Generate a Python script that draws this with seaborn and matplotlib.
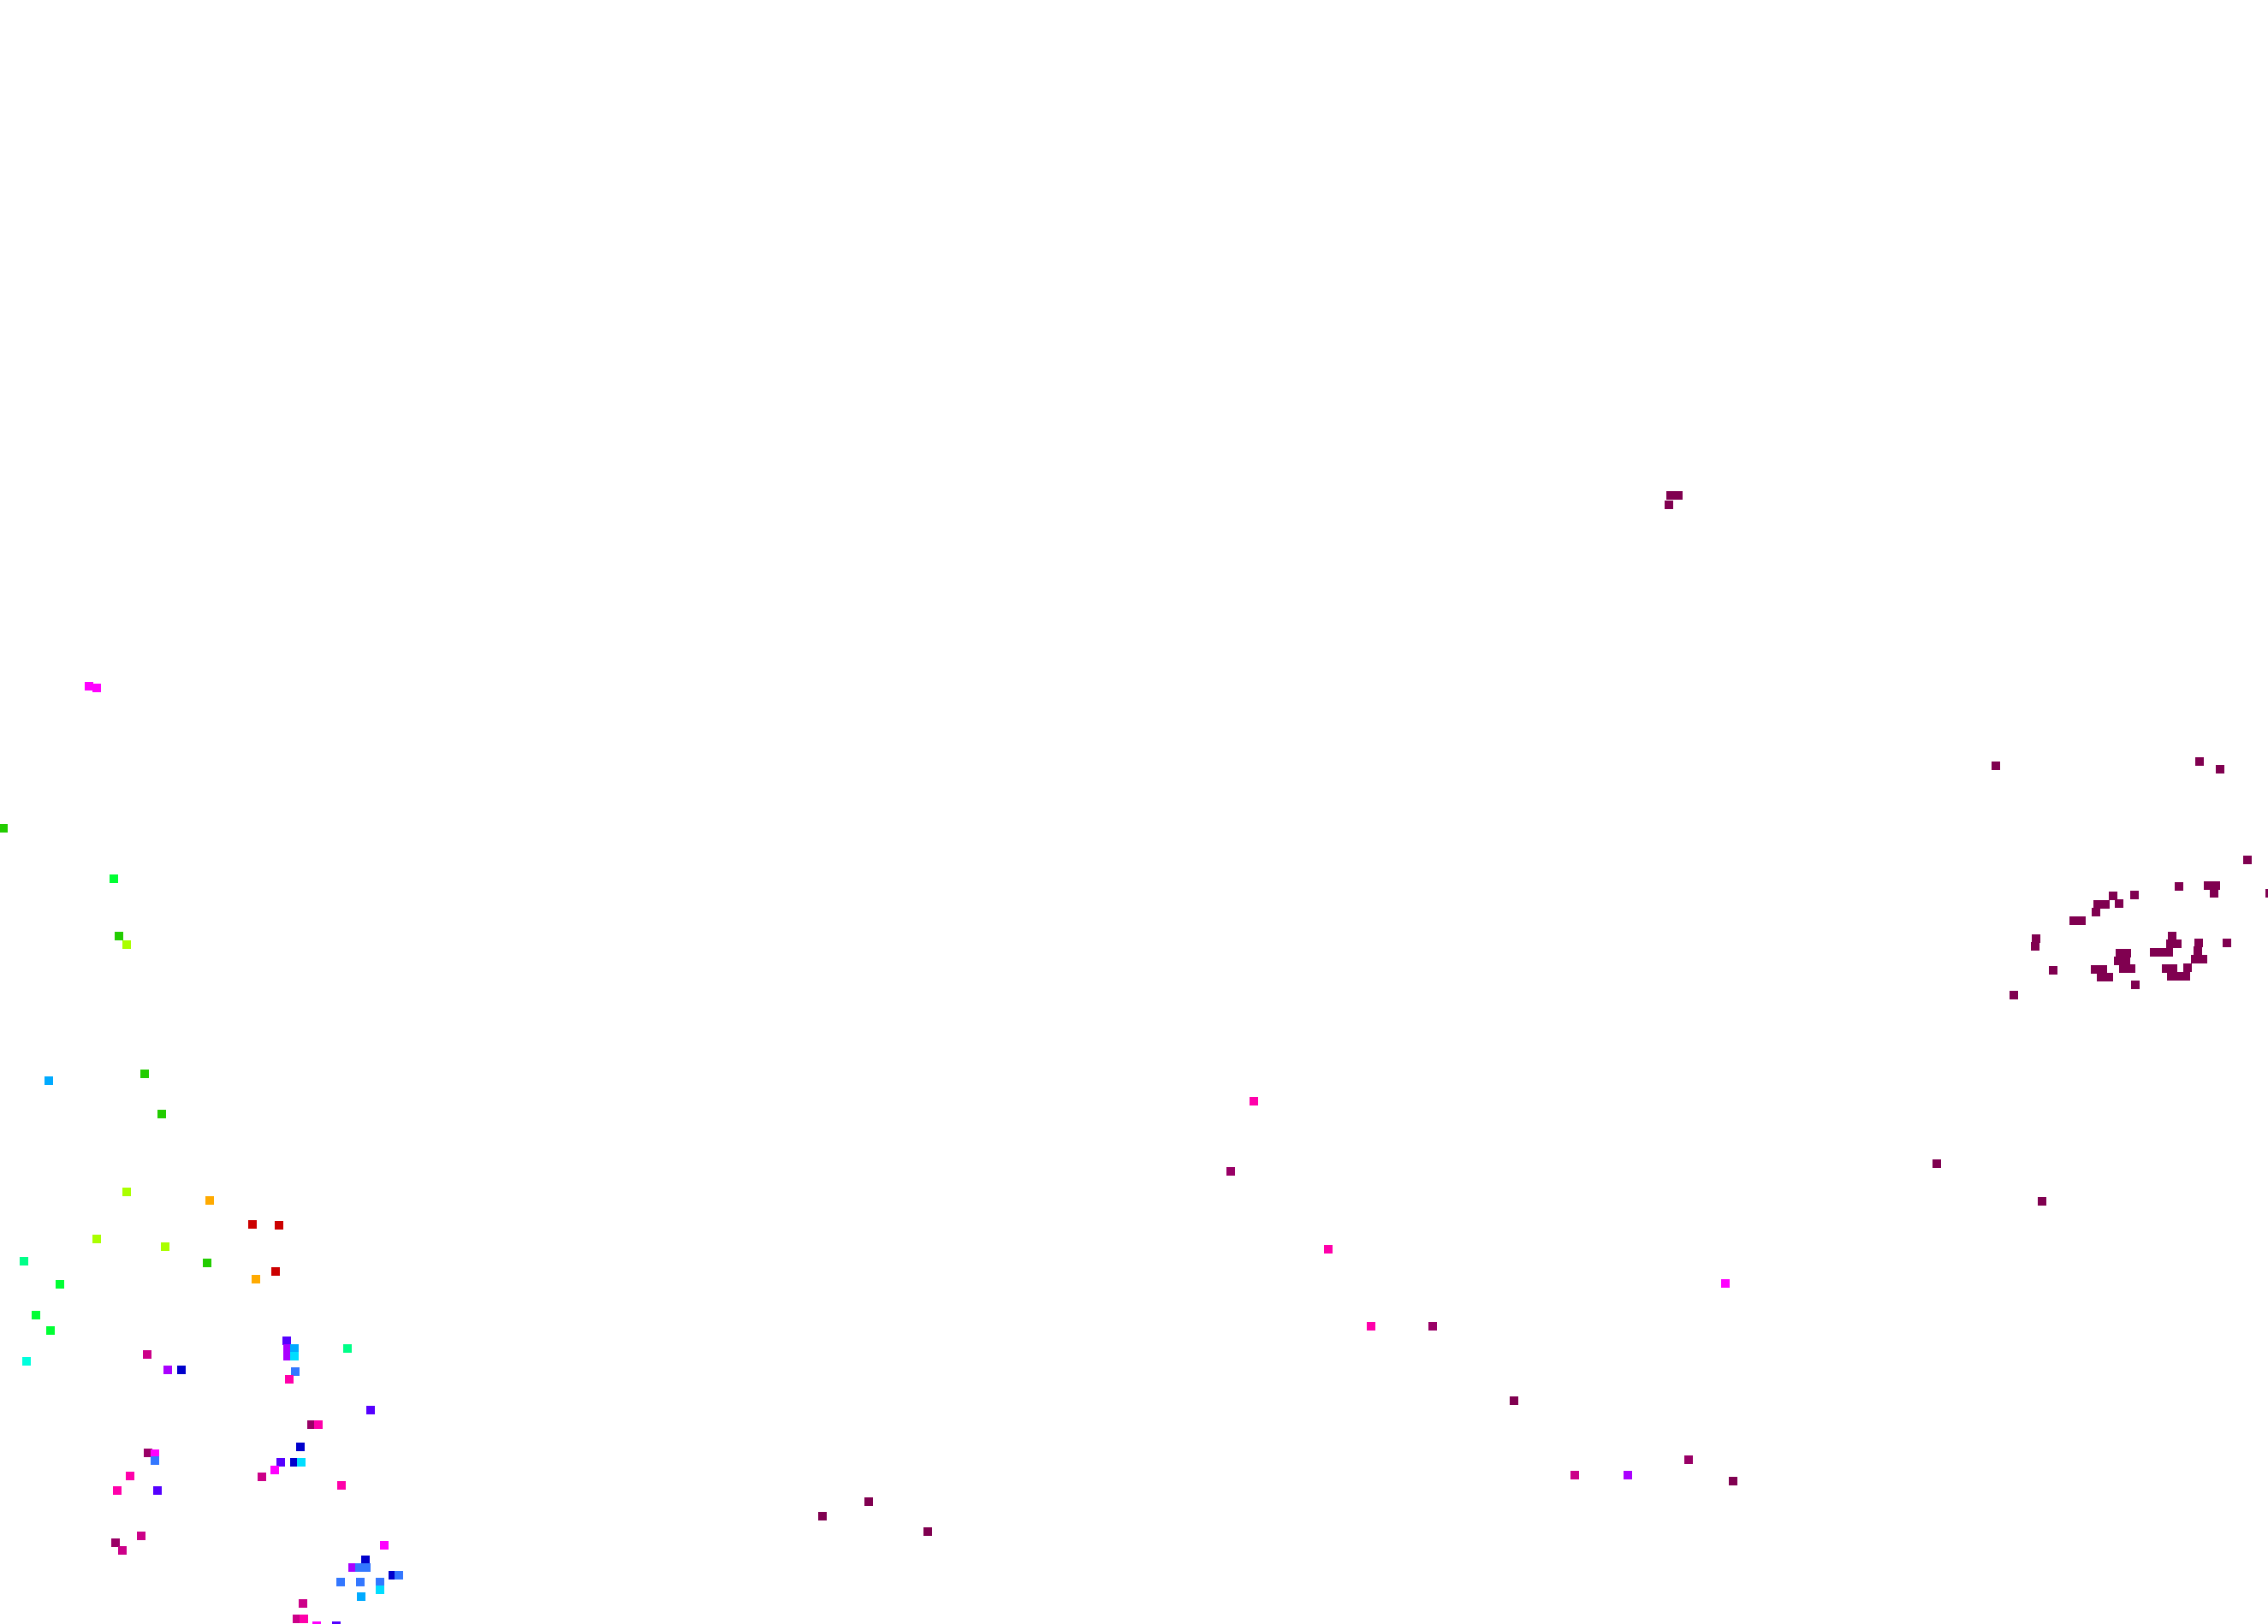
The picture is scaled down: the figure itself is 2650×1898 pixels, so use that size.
import matplotlib
matplotlib.use("Agg")
import matplotlib.pyplot as plt
import seaborn as sns
import pandas as pd

# colour classes (level index -> colour)
level_colors = ["#CC0000", "#FFAA00", "#AAFF00", "#22CC00", "#00FF33", "#00FF88",
                "#00FFDD", "#00DDFF", "#00AAFF", "#3377FF", "#0000CC", "#5500FF",
                "#AA00FF", "#FF00FF", "#FF00AA", "#CC0088", "#990066", "#800050"]

# west group
west_x = [104, 113, 4, 133, 139, 148, 57, 169, 189, 148, 245, 295, 326, 113, 193, 28, 242,
          322, 299, 70, 42, 59, 31, 172, 196, 212, 335, 336, 336, 344, 344, 345, 338, 406,
          433, 364, 372, 351, 328, 344, 352, 321, 306, 399, 173, 181, 181, 152, 137, 184,
          165, 135, 143, 449, 427, 412, 420, 428, 459, 466, 398, 421, 444, 444, 422, 354,
          347, 355, 370, 393]
west_y = [803, 805, 969, 1028, 1095, 1105, 1264, 1256, 1303, 1394, 1404, 1432, 1433, 1449,
          1458, 1475, 1477, 1487, 1496, 1502, 1538, 1556, 1592, 1584, 1602, 1602, 1568, 1577,
          1586, 1577, 1586, 1604, 1613, 1577, 1649, 1666, 1666, 1692, 1710, 1710, 1710, 1719,
          1727, 1737, 1699, 1700, 1708, 1726, 1743, 1743, 1796, 1804, 1813, 1807, 1824, 1833,
          1833, 1833, 1842, 1842, 1850, 1850, 1850, 1859, 1867, 1875, 1893, 1893, 1901, 1901]
west_level = [13, 13, 3, 4, 3, 2, 8, 3, 3, 2, 1, 0, 0, 2, 2, 5, 3,
              0, 1, 4, 4, 4, 6, 15, 12, 10, 11, 12, 12, 8, 7, 9, 14, 5,
              11, 16, 14, 10, 11, 10, 7, 13, 15, 14, 16, 13, 9, 14, 14, 11,
              15, 16, 15, 13, 10, 12, 9, 9, 10, 9, 9, 9, 9, 7, 8, 15,
              15, 14, 13, 11]

# central group
mid_x = [1465, 1438, 1552, 1602, 1674, 2016, 1769, 1973, 1840, 1902, 2025, 1015, 961, 1084]
mid_y = [1288, 1370, 1461, 1551, 1551, 1501, 1638, 1707, 1725, 1725, 1732, 1756, 1773, 1791]
mid_level = [14, 16, 14, 14, 16, 13, 17, 16, 15, 12, 17, 17, 17, 17]

# east group
east_x = [1952, 1961, 1950, 2332, 2570, 2594, 2626, 2546, 2580, 2589, 2587, 2652, 2469, 2494,
          2451, 2460, 2476, 2449, 2423, 2432, 2379, 2378, 2399, 2353, 2495, 2448, 2457, 2455,
          2464, 2477, 2485, 2475, 2484, 2481, 2490, 2538, 2536, 2544, 2517, 2526, 2534, 2569,
          2568, 2565, 2574, 2556, 2531, 2539, 2537, 2546, 2554, 2602, 2263, 2386]
east_y = [580, 580, 591, 896, 891, 900, 1006, 1037, 1036, 1036, 1045, 1045, 1048, 1047,
          1058, 1058, 1057, 1067, 1077, 1077, 1098, 1107, 1135, 1164, 1152, 1134, 1134, 1143,
          1143, 1115, 1115, 1124, 1124, 1133, 1133, 1095, 1104, 1104, 1114, 1114, 1114, 1103,
          1112, 1122, 1122, 1132, 1133, 1133, 1142, 1142, 1142, 1103, 1361, 1405]
east_level = [17] * len(east_x)

df = pd.DataFrame({
    "x": west_x + mid_x + east_x,
    "y": west_y + mid_y + east_y,
    "level": west_level + mid_level + east_level,
})

palette = {i: c for i, c in enumerate(level_colors)}

sns.set_style("white")
fig = plt.figure(figsize=(26.5, 18.99), dpi=100)
ax = fig.add_axes([0, 0, 1, 1])
sns.scatterplot(data=df, x="x", y="y", hue="level", palette=palette, marker="s",
                s=46, linewidth=0, legend=False, ax=ax)
ax.set_xlim(0, 2650)
ax.set_ylim(1899, 0)
ax.axis("off")
fig.savefig("out.png", dpi=100, facecolor="white")
